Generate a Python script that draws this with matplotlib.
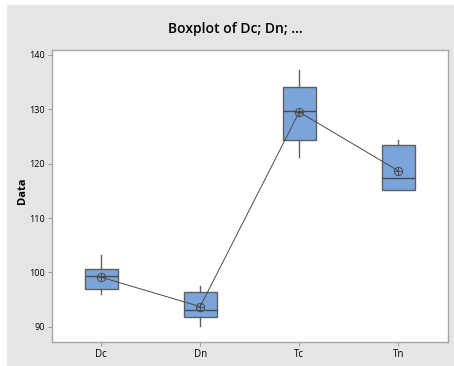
import matplotlib
matplotlib.use("Agg")
import matplotlib.pyplot as plt
from matplotlib.patches import Rectangle

categories = ["Dc", "Dn", "Tc", "Tn"]
q1 = [96.9, 91.7, 124.3, 115.2]
median = [99.3, 93.0, 129.7, 117.3]
q3 = [100.6, 96.3, 134.2, 123.5]
whis_lo = [96.0, 90.1, 121.2, 115.2]
whis_hi = [103.2, 97.5, 137.3, 124.4]
means = [99.1, 93.7, 129.5, 118.7]
yticks = [90, 100, 110, 120, 130, 140]

plt.rcParams["font.family"] = ["Open Sans", "DejaVu Sans"]

W, H = 454, 366
fig = plt.figure(figsize=(W / 100, H / 100), dpi=100)
fig.patch.set_facecolor("white")
fig.patches.append(Rectangle((7 / W, 0), 1 - 7 / W, 1 - 5 / H, transform=fig.transFigure,
                             facecolor="#e5e5e5", edgecolor="none", zorder=-10))

ax = fig.add_axes([51.7 / W, (H - 341.7) / H, (447.7 - 51.7) / W, (341.7 - 50) / H])
ax.set_facecolor("white")

stats = []
for i, c in enumerate(categories):
    stats.append(dict(label=c, q1=q1[i], med=median[i], q3=q3[i],
                      whislo=whis_lo[i], whishi=whis_hi[i], mean=means[i], fliers=[]))
pos = list(range(1, len(categories) + 1))
edge = "#5e5e5e"
ax.bxp(stats, positions=pos, widths=0.33, patch_artist=True, showmeans=False,
       showcaps=False,
       boxprops=dict(facecolor="#7ba5da", edgecolor=edge, linewidth=1.0),
       medianprops=dict(color="#4a4a4a", linewidth=1.0),
       whiskerprops=dict(color=edge, linewidth=1.0))

ax.plot(pos, means, color="#4a4a4a", linewidth=0.7, zorder=3)
ax.plot(pos, means, linestyle="none", marker="o", markersize=6, markerfacecolor="none",
        markeredgecolor="#4a4a4a", markeredgewidth=0.7, zorder=4)
ax.plot(pos, means, linestyle="none", marker="+", markersize=6,
        markeredgecolor="#4a4a4a", markeredgewidth=0.7, zorder=4)

ax.set_xlim(0.5, 4.5)
ax.set_ylim(87.24, 140.92)
ax.set_yticks(yticks)
ax.set_yticklabels([str(t) for t in yticks], fontsize=6.5)
ax.set_xticks(pos)
ax.set_xticklabels(categories, fontsize=7)
ax.tick_params(axis="both", length=3, width=0.7, color="#9a9a9a", pad=2)
for s in ax.spines.values():
    s.set_color("#a6a6a6")
    s.set_linewidth(1.0)

fig.text(22 / W, 1 - 191 / H, "Data", rotation=90, ha="center", va="center",
         fontsize=8, fontweight="bold")
fig.text(235.5 / W, 1 - 29 / H, "Boxplot of Dc; Dn; ...", ha="center", va="center",
         fontsize=10, fontweight="semibold")

fig.savefig("out.png", dpi=100)
